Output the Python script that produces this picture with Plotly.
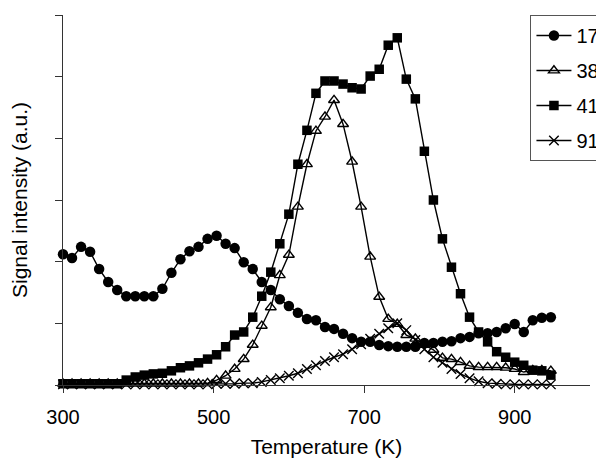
import plotly.graph_objects as go

# Temperature grid (K)
temperature = [300 + 12 * i for i in range(55)]

# Signal intensities (a.u.)
s17 = [2.12, 2.06, 2.24, 2.16, 1.88, 1.67, 1.54, 1.44, 1.44, 1.44,
       1.44, 1.56, 1.82, 2.04, 2.17, 2.24, 2.37, 2.42, 2.29, 2.22,
       1.99, 1.88, 1.67, 1.54, 1.39, 1.28, 1.17, 1.07, 1.05, 0.94,
       0.91, 0.83, 0.76, 0.70, 0.70, 0.65, 0.63, 0.62, 0.62, 0.62,
       0.68, 0.68, 0.70, 0.71, 0.76, 0.78, 0.84, 0.84, 0.86, 0.92,
       0.99, 0.86, 1.05, 1.09, 1.10]
s38 = [0.02, 0.02, 0.02, 0.02, 0.02, 0.02, 0.02, 0.02, 0.02, 0.02,
       0.02, 0.02, 0.02, 0.02, 0.02, 0.02, 0.03, 0.08, 0.15, 0.26,
       0.42, 0.65, 0.96, 1.26, 1.78, 2.11, 2.89, 3.58, 4.12, 4.35,
       4.62, 4.23, 3.62, 2.89, 2.08, 1.43, 1.07, 0.99, 0.81, 0.75,
       0.65, 0.57, 0.44, 0.42, 0.37, 0.31, 0.29, 0.29, 0.29, 0.28,
       0.26, 0.21, 0.24, 0.24, 0.23]
s41 = [0.02, 0.02, 0.02, 0.02, 0.02, 0.02, 0.02, 0.08, 0.13, 0.16,
       0.18, 0.19, 0.23, 0.28, 0.31, 0.36, 0.42, 0.49, 0.62, 0.81,
       0.86, 1.10, 1.44, 1.83, 2.29, 2.77, 3.58, 4.13, 4.73, 4.93,
       4.93, 4.88, 4.82, 4.80, 5.01, 5.12, 5.51, 5.63, 4.96, 4.64,
       3.79, 3.00, 2.37, 1.91, 1.48, 1.10, 0.86, 0.70, 0.54, 0.45,
       0.37, 0.32, 0.24, 0.23, 0.16]
s91 = [0.01, 0.01, 0.01, 0.01, 0.01, 0.01, 0.01, 0.01, 0.01, 0.01,
       0.01, 0.01, 0.01, 0.01, 0.01, 0.01, 0.01, 0.02, 0.02, 0.02,
       0.03, 0.03, 0.05, 0.08, 0.11, 0.15, 0.19, 0.26, 0.32, 0.39,
       0.45, 0.50, 0.58, 0.66, 0.75, 0.83, 0.92, 1.00, 0.89, 0.73,
       0.58, 0.45, 0.36, 0.26, 0.18, 0.11, 0.06, 0.03, 0.02, 0.01,
       0.01, 0.01, 0.01, 0.01, 0.01]

series_names = ["17", "38", "41", "91"]
series_values = [s17, s38, s41, s91]
x_tick_vals = [300, 500, 700, 900]
x_tick_text = ["300", "500", "700", "900"]

FONT = "Arial"

styles = [
    dict(symbol="circle", size=10.5, color="black", line=dict(width=0)),
    dict(symbol="triangle-up-open", size=9.5, color="black", line=dict(width=1.4, color="black")),
    dict(symbol="square", size=9.5, color="black", line=dict(width=0)),
    dict(symbol="x-thin", size=9.5, color="black", line=dict(width=1.4, color="black")),
]

fig = go.Figure()
for name, vals, st in zip(series_names, series_values, styles):
    fig.add_trace(go.Scatter(
        x=temperature, y=vals, name=name, mode="lines+markers",
        line=dict(color="black", width=1.4),
        marker=st, cliponaxis=False, legendgroup=name,
    ))

# the page body has a small default margin, so the figure sits a few px in from the corner
fig.update_layout(
    width=596, height=454,
    margin=dict(l=55, r=14, t=7, b=77, autoexpand=False),
    paper_bgcolor="white", plot_bgcolor="white",
    font=dict(family=FONT, size=20, color="black"),
    showlegend=True,
    legend=dict(
        x=0.887, y=1.0, xanchor="left", yanchor="top",
        bgcolor="white", bordercolor="#555555", borderwidth=1,
        font=dict(size=20, family=FONT), tracegroupgap=6, itemwidth=35,
    ),
    xaxis=dict(
        range=[300, 1000], tickvals=x_tick_vals, ticktext=x_tick_text,
        ticks="outside", ticklen=7, tickcolor="#333333",
        showline=True, linecolor="#333333", linewidth=1,
        showgrid=False, zeroline=False, automargin=False,
        ticklabelstandoff=7,
        title=dict(text="Temperature (K)", standoff=12, font=dict(size=21)),
        tickfont=dict(size=20),
    ),
    yaxis=dict(
        range=[0, 6], dtick=1, showticklabels=False,
        ticks="outside", ticklen=7, tickcolor="#333333",
        showline=True, linecolor="#333333", linewidth=1,
        showgrid=False, zeroline=False, automargin=False,
        title=dict(text="Signal intensity (a.u.)", standoff=28, font=dict(size=21)),
    ),
)

fig.write_html("out.html")
